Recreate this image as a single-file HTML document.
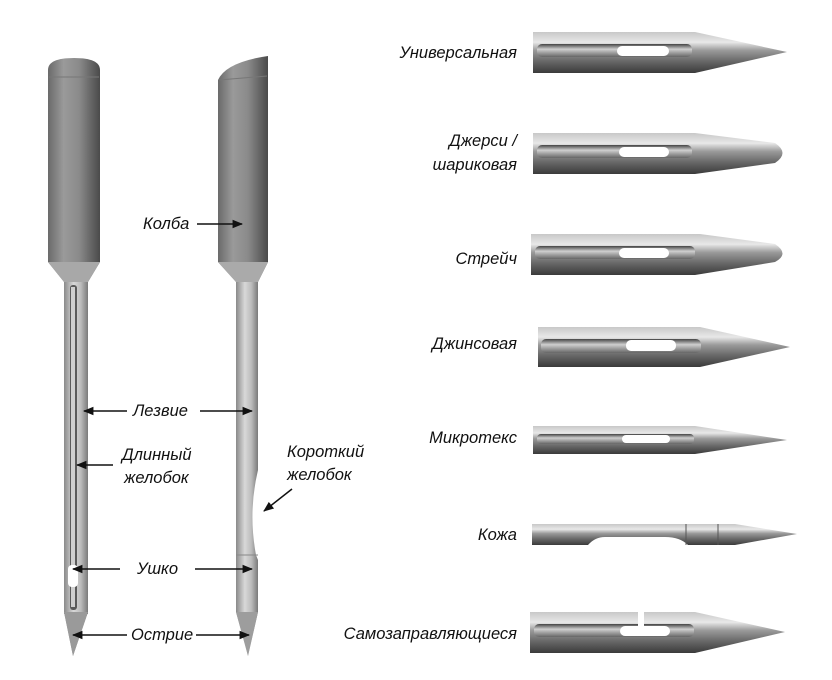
<!DOCTYPE html>
<html><head><meta charset="utf-8"><style>
html,body{margin:0;padding:0;background:#fff;}
svg{display:block}
text{font-family:"Liberation Sans",sans-serif;font-style:italic;font-size:16.5px;fill:#111}
</style></head><body>
<svg width="832" height="680" viewBox="0 0 832 680" xmlns="http://www.w3.org/2000/svg">
<defs>
<linearGradient id="sh" x1="0" x2="1" y1="0" y2="0">
<stop offset="0" stop-color="#6a6a6a"/><stop offset="0.3" stop-color="#9a9a9a"/><stop offset="0.6" stop-color="#8a8a8a"/><stop offset="1" stop-color="#4a4a4a"/></linearGradient>
<linearGradient id="bl" x1="0" x2="1" y1="0" y2="0">
<stop offset="0" stop-color="#8a8a8a"/><stop offset="0.4" stop-color="#d8d8d8"/><stop offset="0.7" stop-color="#bcbcbc"/><stop offset="1" stop-color="#7a7a7a"/></linearGradient>
<linearGradient id="nv" x1="0" x2="0" y1="0" y2="1">
<stop offset="0" stop-color="#c8c8c8"/><stop offset="0.25" stop-color="#e8e8e8"/><stop offset="0.45" stop-color="#9a9a9a"/><stop offset="0.7" stop-color="#6a6a6a"/><stop offset="1" stop-color="#3a3a3a"/></linearGradient>
<linearGradient id="gr" x1="0" x2="0" y1="0" y2="1">
<stop offset="0" stop-color="#444"/><stop offset="0.4" stop-color="#cfcfcf"/><stop offset="1" stop-color="#666"/></linearGradient>
<marker id="ar" viewBox="0 0 10 10" refX="9" refY="5" markerWidth="7" markerHeight="7" orient="auto-start-reverse"><path d="M0,1 L10,5 L0,9 z" fill="#111"/></marker>
</defs>

<!-- left needle 1 -->
<path d="M48,70 Q48,58 74,58 Q100,58 100,70 L100,262 L88,282 L88,612 L73,656 L64,612 L64,282 L48,262 Z" fill="url(#sh)"/>
<rect x="64" y="262" width="24" height="352" fill="url(#bl)"/>
<path d="M48,262 L100,262 L88,282 L64,282 Z" fill="#a8a8a8"/>
<path d="M64,612 L88,612 L73,656 Z" fill="#9a9a9a"/>
<rect x="70" y="285" width="7" height="325" rx="3" fill="#5a5a5a"/>
<rect x="71" y="287" width="4" height="320" fill="#cfcfcf"/>
<rect x="68" y="565" width="10" height="22" rx="4" fill="#fff"/>
<line x1="49" y1="77" x2="99" y2="77" stroke="#777"/>
<!-- left needle 2 -->
<path d="M218,80 Q226,62 268,56 L268,262 L258,282 L236,282 L218,262 Z" fill="url(#sh)"/>
<path d="M218,262 L268,262 L258,282 L236,282 Z" fill="#aaa"/>
<path d="M236,282 L258,282 L258,470 Q248,512 256,555 L258,560 L258,612 L248,656 L236,612 Z" fill="url(#bl)"/>
<path d="M236,612 L258,612 L248,656 Z" fill="#9d9d9d"/>
<line x1="236" y1="555" x2="258" y2="555" stroke="#888"/>
<line x1="219" y1="80" x2="267" y2="76" stroke="#777"/>

<!-- labels left -->
<text x="143" y="229">Колба</text>
<line x1="197" y1="224" x2="242" y2="224" stroke="#111" stroke-width="1.5" marker-end="url(#ar)"/>
<text x="133" y="416">Лезвие</text>
<line x1="127" y1="411" x2="84" y2="411" stroke="#111" stroke-width="1.5" marker-end="url(#ar)"/>
<line x1="200" y1="411" x2="252" y2="411" stroke="#111" stroke-width="1.5" marker-end="url(#ar)"/>
<text x="122" y="460">Длинный</text>
<text x="124" y="483">желобок</text>
<line x1="113" y1="465" x2="77" y2="465" stroke="#111" stroke-width="1.5" marker-end="url(#ar)"/>
<text x="287" y="457">Короткий</text>
<text x="287" y="480">желобок</text>
<line x1="292" y1="489" x2="264" y2="511" stroke="#111" stroke-width="1.5" marker-end="url(#ar)"/>
<text x="137" y="574">Ушко</text>
<line x1="120" y1="569" x2="73" y2="569" stroke="#111" stroke-width="1.5" marker-end="url(#ar)"/>
<line x1="195" y1="569" x2="252" y2="569" stroke="#111" stroke-width="1.5" marker-end="url(#ar)"/>
<text x="131" y="640">Острие</text>
<line x1="127" y1="635" x2="73" y2="635" stroke="#111" stroke-width="1.5" marker-end="url(#ar)"/>
<line x1="196" y1="635" x2="249" y2="635" stroke="#111" stroke-width="1.5" marker-end="url(#ar)"/>

<!-- right needles -->
<g transform="translate(0,52)">
<path d="M533,-20 L695,-20 L787,0 L695,21 L533,21 Z" fill="url(#nv)"/>
<rect x="537" y="-8" width="155" height="13" rx="5" fill="url(#gr)"/>
<rect x="617" y="-6" width="52" height="10" rx="5" fill="#fff"/>
</g>
<g transform="translate(0,153)">
<path d="M533,-20 L695,-20 L775,-10 Q790,0 775,10 L695,21 L533,21 Z" fill="url(#nv)"/>
<rect x="537" y="-8" width="155" height="13" rx="5" fill="url(#gr)"/>
<rect x="619" y="-6" width="50" height="10" rx="5" fill="#fff"/>
</g>
<g transform="translate(0,254)">
<path d="M531,-20 L700,-20 L775,-10 Q790,0 775,8 L695,21 L531,21 Z" fill="url(#nv)"/>
<rect x="535" y="-8" width="160" height="13" rx="5" fill="url(#gr)"/>
<rect x="619" y="-6" width="50" height="10" rx="5" fill="#fff"/>
</g>
<g transform="translate(0,347)">
<path d="M538,-20 L700,-20 L790,0 L700,20 L538,20 Z" fill="url(#nv)"/>
<rect x="541" y="-8" width="160" height="14" rx="5" fill="url(#gr)"/>
<rect x="626" y="-7" width="50" height="11" rx="5" fill="#fff"/>
</g>
<g transform="translate(0,440)">
<path d="M533,-14 L695,-14 L787,0 L695,14 L533,14 Z" fill="url(#nv)"/>
<rect x="537" y="-6" width="157" height="10" rx="4" fill="url(#gr)"/>
<rect x="622" y="-5" width="48" height="8" rx="4" fill="#fff"/>
</g>
<g transform="translate(0,534)">
<path d="M532,-10 L735,-10 L797,0 L735,11 L688,11 Q680,3 665,3 L605,3 Q595,3 588,11 L532,11 Z" fill="url(#nv)"/>
<line x1="686" y1="-10" x2="686" y2="11" stroke="#555"/>
<line x1="718" y1="-10" x2="718" y2="11" stroke="#555"/>
</g>
<g transform="translate(0,632)">
<path d="M530,-20 L695,-20 L785,0 L695,21 L530,21 Z" fill="url(#nv)"/>
<rect x="534" y="-8" width="160" height="13" rx="5" fill="url(#gr)"/>
<rect x="620" y="-6" width="50" height="10" rx="5" fill="#fff"/>
<rect x="638" y="-21" width="6" height="17" fill="#fff"/>
</g>

<!-- right labels -->
<g text-anchor="end">
<text x="517" y="58">Универсальная</text>
<text x="517" y="146">Джерси /</text>
<text x="517" y="170">шариковая</text>
<text x="517" y="264">Стрейч</text>
<text x="517" y="349">Джинсовая</text>
<text x="517" y="443">Микротекс</text>
<text x="517" y="540">Кожа</text>
<text x="517" y="639">Самозаправляющиеся</text>
</g>
</svg>
</body></html>
